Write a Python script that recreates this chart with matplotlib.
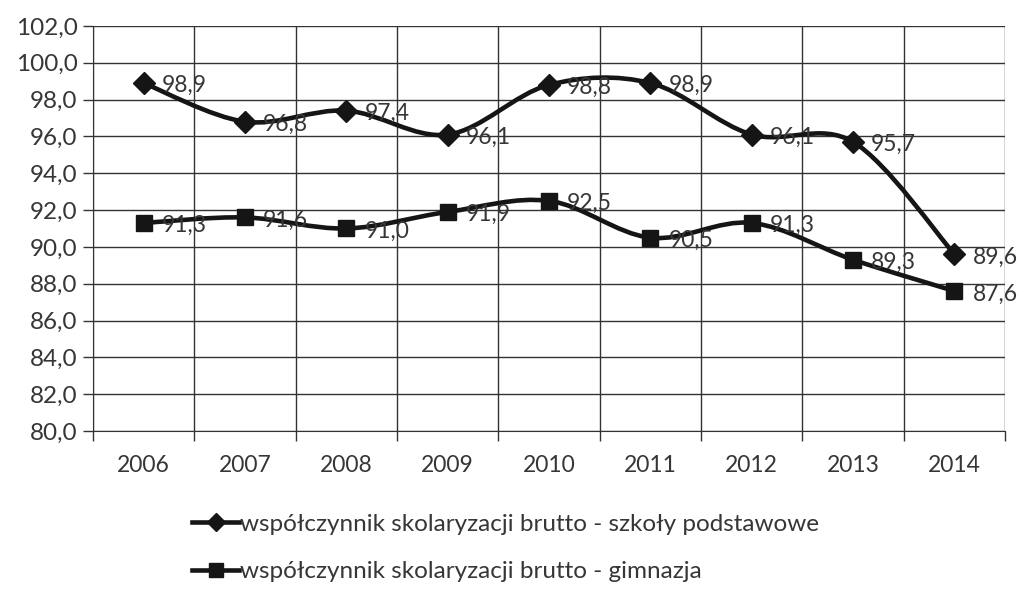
import matplotlib
matplotlib.use("Agg")
import matplotlib.pyplot as plt
from matplotlib.path import Path
from matplotlib.patches import PathPatch
from matplotlib.lines import Line2D

# data
years = ["2006", "2007", "2008", "2009", "2010", "2011", "2012", "2013", "2014"]
podstawowe = [98.9, 96.8, 97.4, 96.1, 98.8, 98.9, 96.1, 95.7, 89.6]
gimnazja = [91.3, 91.6, 91.0, 91.9, 92.5, 90.5, 91.3, 89.3, 87.6]
series_names = [
    "współczynnik skolaryzacji brutto - szkoły podstawowe",
    "współczynnik skolaryzacji brutto - gimnazja",
]

plt.rcParams["font.family"] = ["Lato", "DejaVu Sans"]
text_col = "#363636"
fs = 16.5


def smooth_path(xs, ys):
    # Excel-like smoothed line: cubic Bezier through every point
    pts = list(zip(xs, ys))
    verts = [pts[0]]
    codes = [Path.MOVETO]
    n = len(pts)
    for i in range(n - 1):
        p0 = pts[i - 1] if i > 0 else pts[i]
        p1 = pts[i]
        p2 = pts[i + 1]
        p3 = pts[i + 2] if i + 2 < n else pts[i + 1]
        c1 = (p1[0] + (p2[0] - p0[0]) / 6, p1[1] + (p2[1] - p0[1]) / 6)
        c2 = (p2[0] - (p3[0] - p1[0]) / 6, p2[1] - (p3[1] - p1[1]) / 6)
        verts += [c1, c2, p2]
        codes += [Path.CURVE4] * 3
    return Path(verts, codes)


fig = plt.figure(figsize=(10.32, 5.9), dpi=100)
ax = fig.add_axes([0.090, 0.2695, 0.884, 0.6865])

x = list(range(len(years)))
for vals, mk, ms in [(podstawowe, "D", 11), (gimnazja, "s", 11.5)]:
    ax.add_patch(PathPatch(smooth_path(x, vals), fill=False, lw=3.3,
                           edgecolor="#151515", zorder=3, capstyle="round"))
    ax.plot(x, vals, ls="none", marker=mk, ms=ms, color="#151515", zorder=4)
    for xi, v in zip(x, vals):
        ax.annotate(f"{v:.1f}".replace(".", ","), (xi, v), xytext=(13, -2),
                    textcoords="offset points", ha="left", va="center",
                    fontsize=fs, color=text_col, zorder=5)

ax.set_xlim(-0.5, len(years) - 0.5)
ax.set_ylim(80, 102)
ax.set_yticks([80 + 2 * i for i in range(12)])
ax.set_yticklabels([f"{80 + 2 * i:.1f}".replace(".", ",") for i in range(12)])
ax.set_xticks([i - 0.5 for i in range(len(years) + 1)])
ax.set_xticklabels([])
ax.set_xticks(x, minor=True)
ax.set_xticklabels(years, minor=True)
ax.tick_params(axis="x", which="minor", length=0, pad=17)
ax.tick_params(axis="x", which="major", length=7, width=1, color="#333333")
ax.tick_params(axis="y", length=7, width=1, color="#333333", pad=4)
ax.tick_params(labelsize=fs, labelcolor=text_col, which="both")
ax.tick_params(axis="y", labelsize=17.5)
ax.grid(True, which="major", color="#333333", lw=1)
for s in ["top", "right"]:
    ax.spines[s].set_visible(False)
for s in ["left", "bottom"]:
    ax.spines[s].set_color("#333333")

handles = [
    Line2D([], [], color="#151515", lw=3.3, marker="D", ms=9),
    Line2D([], [], color="#151515", lw=3.3, marker="s", ms=10),
]
fig.legend(handles, series_names, loc="center", bbox_to_anchor=(0.49, 0.071),
           ncol=1, frameon=False, fontsize=17.5, labelcolor=text_col,
           handlelength=1.9, handletextpad=0.05, labelspacing=1.1,
           borderpad=0)

fig.savefig("out.png", dpi=100, facecolor="white")
